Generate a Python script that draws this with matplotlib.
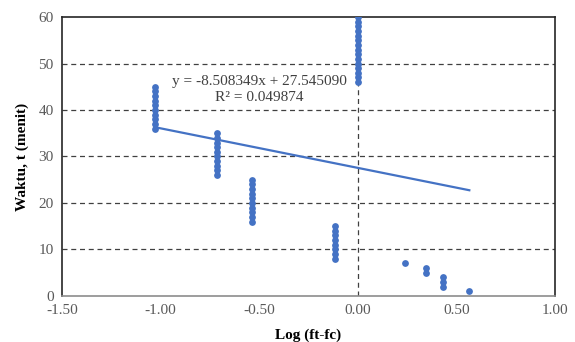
import numpy as np
import matplotlib.pyplot as plt

plt.rcParams['font.family'] = ['Liberation Serif', 'DejaVu Serif']

# data
x_groups = [-1.028, -0.715, -0.537, -0.114, 0.0, 0.241, 0.348, 0.432, 0.566]
y_groups = [
    list(range(36, 46)),
    list(range(26, 36)),
    list(range(16, 26)),
    list(range(8, 16)),
    list(range(46, 61)),
    [7],
    [5, 6],
    [2, 3, 4],
    [1],
]
slope = -8.508349
intercept = 27.545090
r2 = 0.049874

xs = []
ys = []
for xv, yl in zip(x_groups, y_groups):
    for yv in yl:
        xs.append(xv)
        ys.append(yv)
xs = np.array(xs)
ys = np.array(ys)

fig = plt.figure(figsize=(5.75, 3.42), dpi=100)
ax = fig.add_axes([0.108, 0.135, 0.857, 0.815])

ax.set_xlim(-1.5, 1.0)
ax.set_ylim(0, 60)
ax.set_xticks(np.arange(-1.5, 1.01, 0.5))
ax.set_yticks(range(0, 61, 10))
ax.set_xticklabels(['%.2f' % v for v in np.arange(-1.5, 1.01, 0.5)])

for yv in range(10, 60, 10):
    ax.axhline(yv, color='#404040', lw=0.9, ls=(0, (4, 3)), zorder=1)
ax.axvline(0, color='#404040', lw=0.9, ls=(0, (4, 3)), zorder=1)

ax.scatter(xs, ys, s=24, color='#4472C4', zorder=3, linewidths=0)

xl = np.array([xs.min(), xs.max()])
ax.plot(xl, slope * xl + intercept, color='#4472C4', lw=1.6, zorder=2)

ax.text(-0.50, 46.2, 'y = %.6fx + %.6f' % (slope, intercept), ha='center',
        va='center', fontsize=11, color='#404040')
ax.text(-0.50, 42.8, 'R² = %.6f' % r2, ha='center', va='center',
        fontsize=11, color='#404040')

for s in ['top', 'right', 'left']:
    ax.spines[s].set_color('#262626')
    ax.spines[s].set_linewidth(1.2)
ax.spines['bottom'].set_color('#8c8c8c')
ax.spines['bottom'].set_linewidth(1.2)

ax.tick_params(length=0, labelsize=11, labelcolor='#595959', pad=6)
ax.set_xlabel('Log (ft-fc)', fontsize=11, fontweight='bold', labelpad=8)
ax.set_ylabel('Waktu, t (menit)', fontsize=11, fontweight='bold', labelpad=7)

fig.savefig('out.png', dpi=100)
